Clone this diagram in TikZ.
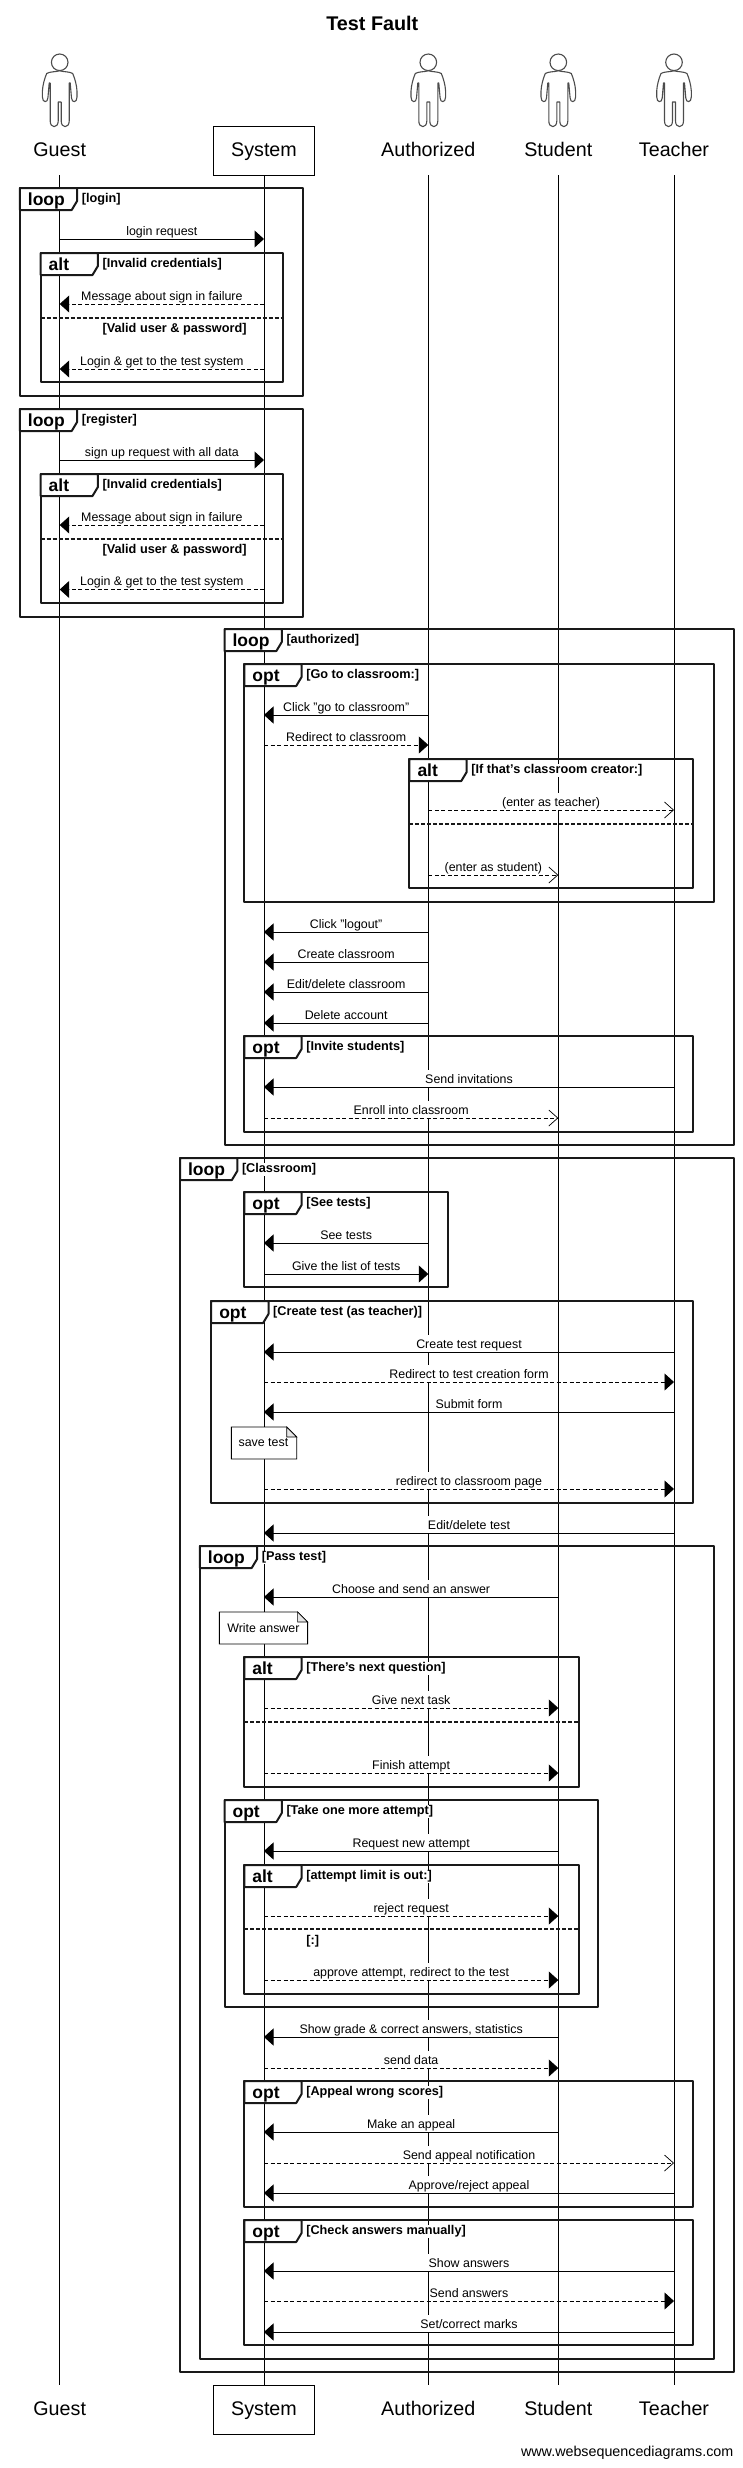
\documentclass[tikz,border=0pt]{standalone}
\usepackage{fontspec}
\setmainfont{Liberation Sans}
\usepackage{tikz}
\usetikzlibrary{arrows.meta}

\tikzset{
  lifeline/.style={line width=0.9pt},
  headname/.style={font=\fontsize{19.7}{22}\selectfont, inner sep=0pt, minimum height=49pt, text height=15pt, text depth=3pt},
  headbox/.style={headname, draw, line width=0.9pt, minimum width=101.3pt, fill=white},
  msglabel/.style={behind path, midway, above, fill=white, font=\fontsize{12.4}{14}\selectfont, inner xsep=1pt, inner ysep=0.2pt, text height=13pt, text depth=3pt},
  solidmsg/.style={line width=1pt, -{Triangle[length=9.5pt,width=17pt]}},
  dashmsg/.style={line width=0.85pt, dash pattern=on 4pt off 2.5pt, -{Triangle[length=9.5pt,width=17pt]}},
  openmsg/.style={line width=0.85pt, dash pattern=on 4pt off 2.5pt, -{Straight Barb[length=9pt,width=16pt,line width=0.7pt]}},
  frameline/.style={line width=2pt, draw=black!90, line join=round},
  tagtext/.style={font=\fontsize{17.5}{20}\selectfont\bfseries, anchor=base west, inner sep=0pt},
  condtext/.style={font=\fontsize{12.7}{15}\selectfont\bfseries, anchor=base west, fill=white, inner xsep=1pt, inner ysep=0pt, text height=10pt, text depth=3pt},
  sepline/.style={line width=2pt, draw=black!90, dash pattern=on 4pt off 2pt},
  notebox/.style={line width=0.9pt, fill=white},
  notetext/.style={font=\fontsize{12.4}{14}\selectfont, inner sep=0pt},
  actorfig/.pic={
    \draw[line width=1.1pt, black!70] (0,62.3) circle (8.3pt);
    \draw[line width=1.1pt, black!70, line join=round] (0,70.8)
      .. controls (-4,72) and (-10,71.5) .. (-13,73.5)
      .. controls (-15,78) and (-17,85) .. (-17.3,91) -- (-17.3,97)
      .. controls (-17.3,103) and (-12,103) .. (-11.8,98) -- (-10.5,83)
      -- (-9.5,83) -- (-9.5,121)
      .. controls (-9.5,128.5) and (-1.5,128.5) .. (-1.5,121) -- (-1.5,102) -- (1.5,102) -- (1.5,121)
      .. controls (1.5,128.5) and (9.5,128.5) .. (9.5,121) -- (9.5,83) -- (10.5,83) -- (11.8,98)
      .. controls (12,103) and (17.3,103) .. (17.3,97) -- (17.3,91)
      .. controls (17,85) and (15,78) .. (13,73.5)
      .. controls (10,71.5) and (4,72) .. (0,70.8);
  }
}

\newcommand{\msg}[5]{\draw[#1] (#2.south |- 0,#4) -- node[msglabel] (m#4) {#5} (#3.south |- 0,#4);}
\newcommand{\seqframe}[7]{
  \draw[frameline] (#4,#5) rectangle (#6,#7);
  \draw[frameline, fill=white, shift={(#4,#5)}] (0,0) -- (57.3,0) -- (57.3,13) -- (51.9,22) -- (0,22) -- cycle;
  \node[tagtext] (#1tag) at (#4+7.9,#5+17) {#2};
  \node[condtext] (#1cond) at (#4+60.8,#5+14.7) {[#3]};
}
\newcommand{\seqsep}[3]{\draw[sepline] (#1,#3) -- (#2,#3);}
\newcommand{\seqnote}[6]{
  \draw[notebox] (#3,#4) -- (#5-10,#4) -- (#5,#4+10) -- (#5,#6) -- (#3,#6) -- cycle;
  \draw[line width=0.7pt, fill=black!10] (#5-10,#4) -- (#5-10,#4+10) -- (#5,#4+10) -- cycle;
  \node[notetext] (#1) at (263.4,#4+16) {#2};
}

\begin{document}
\begin{tikzpicture}[x=1pt, y=-1pt]
  \useasboundingbox (0,0) rectangle (743,2468);

  \node[font=\fontsize{19.8}{22}\selectfont\bfseries, inner sep=0pt] (title) at (372.3,23) {Test Fault};

  % heads and feet of the lifelines
  \node[headname] (guest) at (59.7,150.5) {Guest};
  \node[headbox] (system) at (264,150.5) {System};
  \node[headname] (authorized) at (428.3,150.5) {Authorized};
  \node[headname] (student) at (558.3,150.5) {Student};
  \node[headname] (teacher) at (674,150.5) {Teacher};
  \node[headname] (guest-end) at (59.7,2409.5) {Guest};
  \node[headbox] (system-end) at (264,2409.5) {System};
  \node[headname] (authorized-end) at (428.3,2409.5) {Authorized};
  \node[headname] (student-end) at (558.3,2409.5) {Student};
  \node[headname] (teacher-end) at (674,2409.5) {Teacher};

  \foreach \who/\xpos in {guest/59.7, authorized/428.3, student/558.3, teacher/674}
    \pic at (\xpos,0) {actorfig};
  \foreach \who in {guest, system, authorized, student, teacher}
    \draw[lifeline] (\who.south) -- (\who-end.north);

  % login
  \seqframe{login}{loop}{login}{19.8}{188}{303.2}{396}
  \msg{solidmsg}{guest}{system}{239}{login request}
  \seqframe{loginalt}{alt}{Invalid credentials}{40.6}{253}{283.4}{382}
  \msg{dashmsg}{system}{guest}{304}{Message about sign in failure}
  \seqsep{40.6}{283.4}{318}
  \node[condtext] (loginvalid) at (101.4,332) {[Valid user \& password]};
  \msg{dashmsg}{system}{guest}{369}{Login \& get to the test system}

  % register
  \seqframe{register}{loop}{register}{19.8}{409}{303.2}{617}
  \msg{solidmsg}{guest}{system}{460}{sign up request with all data}
  \seqframe{registeralt}{alt}{Invalid credentials}{40.6}{474}{283.4}{603}
  \msg{dashmsg}{system}{guest}{525}{Message about sign in failure}
  \seqsep{40.6}{283.4}{538.5}
  \node[condtext] (registervalid) at (101.4,553) {[Valid user \& password]};
  \msg{dashmsg}{system}{guest}{589.5}{Login \& get to the test system}

  % authorized
  \seqframe{authorized}{loop}{authorized}{224.5}{629}{733.5}{1145}
  \seqframe{classroom}{opt}{Go to classroom:}{244.3}{664}{713.5}{902}
  \msg{solidmsg}{authorized}{system}{715}{Click "go to classroom"}
  \msg{dashmsg}{system}{authorized}{745}{Redirect to classroom}
  \seqframe{creator}{alt}{If that's classroom creator:}{409.4}{759}{693.3}{888}
  \msg{openmsg}{authorized}{teacher}{810}{(enter as teacher)}
  \seqsep{409.4}{693.3}{824}
  \msg{openmsg}{authorized}{student}{875}{(enter as student)}
  \msg{solidmsg}{authorized}{system}{932}{Click "logout"}
  \msg{solidmsg}{authorized}{system}{962}{Create classroom}
  \msg{solidmsg}{authorized}{system}{992}{Edit/delete classroom}
  \msg{solidmsg}{authorized}{system}{1023}{Delete account}
  \seqframe{invite}{opt}{Invite students}{244.3}{1036}{693.3}{1132}
  \msg{solidmsg}{teacher}{system}{1087}{Send invitations}
  \msg{openmsg}{system}{student}{1118}{Enroll into classroom}

  % classroom
  \seqframe{room}{loop}{Classroom}{180}{1158}{733.5}{2372}
  \seqframe{seetests}{opt}{See tests}{244.3}{1192}{448}{1287}
  \msg{solidmsg}{authorized}{system}{1243}{See tests}
  \msg{solidmsg}{system}{authorized}{1274}{Give the list of tests}
  \seqframe{createtest}{opt}{Create test (as teacher)}{211.2}{1301}{693.3}{1503}
  \msg{solidmsg}{teacher}{system}{1352}{Create test request}
  \msg{dashmsg}{system}{teacher}{1382}{Redirect to test creation form}
  \msg{solidmsg}{teacher}{system}{1412}{Submit form}
  \seqnote{savetest}{save test}{231.3}{1427}{296.7}{1459}
  \msg{dashmsg}{system}{teacher}{1489}{redirect to classroom page}
  \msg{solidmsg}{teacher}{system}{1533}{Edit/delete test}

  % pass test
  \seqframe{passtest}{loop}{Pass test}{199.8}{1546}{713.5}{2359}
  \msg{solidmsg}{student}{system}{1597}{Choose and send an answer}
  \seqnote{writeanswer}{Write answer}{219.3}{1612}{307.6}{1644}
  \seqframe{nextq}{alt}{There's next question}{244.3}{1657}{578.6}{1787}
  \msg{dashmsg}{system}{student}{1708}{Give next task}
  \seqsep{244.3}{578.6}{1722}
  \msg{dashmsg}{system}{student}{1773}{Finish attempt}
  \seqframe{attempt}{opt}{Take one more attempt}{224.5}{1800}{598.3}{2007}
  \msg{solidmsg}{student}{system}{1851}{Request new attempt}
  \seqframe{limit}{alt}{attempt limit is out:}{244.3}{1865}{578.6}{1994}
  \msg{dashmsg}{system}{student}{1916}{reject request}
  \seqsep{244.3}{578.6}{1929}
  \node[condtext] (limitelse) at (305.1,1944) {[:]};
  \msg{dashmsg}{system}{student}{1980}{approve attempt, redirect to the test}
  \msg{solidmsg}{student}{system}{2037}{Show grade \& correct answers, statistics}
  \msg{dashmsg}{system}{student}{2068}{send data}
  \seqframe{appeal}{opt}{Appeal wrong scores}{244.3}{2081}{693.3}{2207}
  \msg{solidmsg}{student}{system}{2132}{Make an appeal}
  \msg{openmsg}{system}{teacher}{2163}{Send appeal notification}
  \msg{solidmsg}{teacher}{system}{2193}{Approve/reject appeal}
  \seqframe{manual}{opt}{Check answers manually}{244.3}{2220}{693.3}{2345}
  \msg{solidmsg}{teacher}{system}{2271}{Show answers}
  \msg{dashmsg}{system}{teacher}{2301}{Send answers}
  \msg{solidmsg}{teacher}{system}{2332}{Set/correct marks}

  \node[font=\fontsize{14.3}{16}\selectfont, anchor=east, inner sep=0pt] (footer) at (733.5,2453) {www.websequencediagrams.com};
\end{tikzpicture}
\end{document}
